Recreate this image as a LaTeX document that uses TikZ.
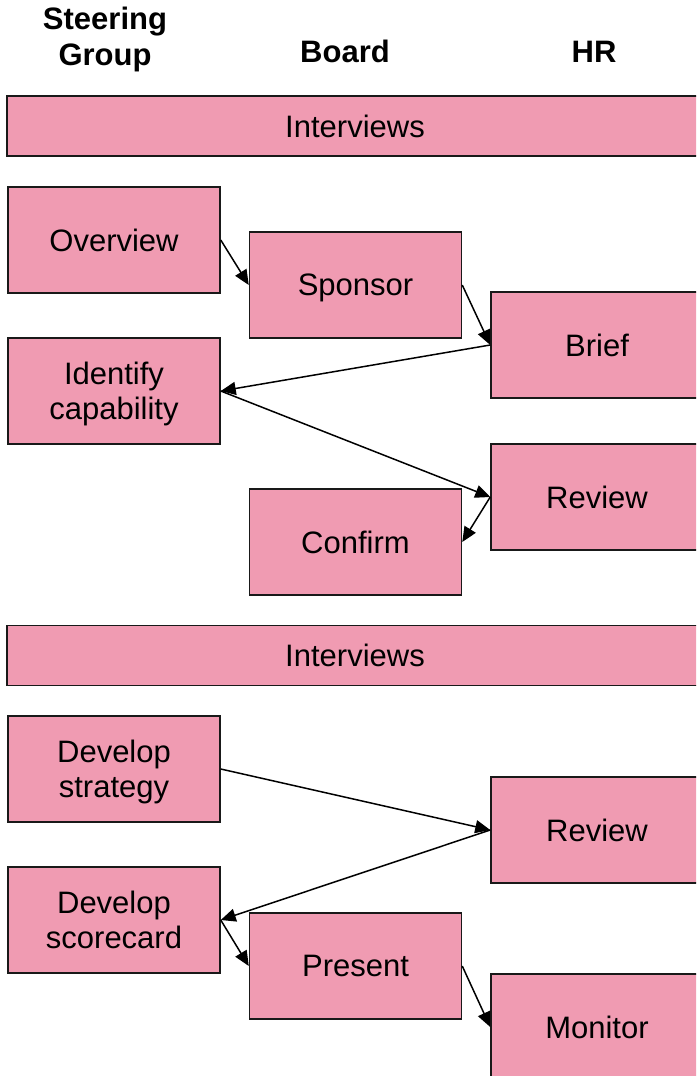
\documentclass[tikz,border=0pt]{standalone}
\usepackage{fontspec}
\setmainfont{Liberation Sans}
\usetikzlibrary{arrows.meta}
\definecolor{boxpink}{RGB}{240,155,178}
\tikzset{
  box/.style={draw=black!90, line width=1.5pt, fill=boxpink, minimum width=212pt, minimum height=106pt, inner sep=0pt, align=center, text depth=0pt, font=\fontsize{31}{35}\selectfont},
  bar/.style={draw=black!90, line width=1.5pt, fill=boxpink, minimum width=696pt, minimum height=60pt, inner sep=0pt, font=\fontsize{31}{35}\selectfont},
  head/.style={font=\bfseries\fontsize{31}{36}\selectfont, align=center, anchor=base},
  link/.style={line width=1.5pt, -{Triangle[length=15pt,width=13pt]}}
}
\begin{document}
\begin{tikzpicture}[x=1pt,y=-1pt]
\useasboundingbox (0,0) rectangle (696,1076);
\clip (0,0) rectangle (696,1076);
% headers
\node[head] (hsg1) at (105,29) {Steering};
\node[head] (hsg2) at (105,65) {Group};
\node[head] (hboard) at (345,62) {Board};
\node[head] (hhr) at (594,62) {HR};
% bars
\node[bar] (int1) at (355,126) {Interviews};
\node[bar] (int2) at (355,655.5) {Interviews};
% boxes
\node[box] (overview) at (114,240) {Overview};
\node[box] (sponsor) at (355.5,285) {Sponsor};
\node[box] (brief) at (597,345) {Brief};
\node[box] (identify) at (114,391) {Identify\\capability};
\node[box] (review) at (597,497) {Review};
\node[box] (confirm) at (355.5,542) {Confirm};
\node[box] (strategy) at (114,769) {Develop\\strategy};
\node[box] (review2) at (597,830) {Review};
\node[box] (scorecard) at (114,920) {Develop\\scorecard};
\node[box] (present) at (355.5,966) {Present};
\node[box] (monitor) at (597,1027) {Monitor};
% connectors
\draw[link] (overview.east) -- (sponsor.west);
\draw[link] (sponsor.east) -- (brief.west);
\draw[link] (brief.west) -- (identify.east);
\draw[link] (identify.east) -- (review.west);
\draw[link] (review.west) -- (confirm.east);
\draw[link] (strategy.east) -- (review2.west);
\draw[link] (review2.west) -- (scorecard.east);
\draw[link] (scorecard.east) -- (present.west);
\draw[link] (present.east) -- (monitor.west);
\end{tikzpicture}
\end{document}
